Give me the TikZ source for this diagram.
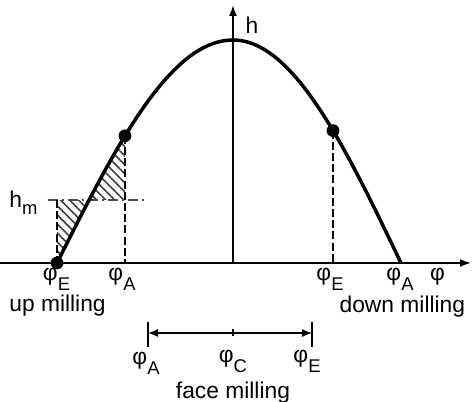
\documentclass[tikz,border=0pt]{standalone}
\usepackage{fontspec}
\setmainfont{Liberation Sans}
\usetikzlibrary{arrows.meta,positioning,patterns.meta}
\newcommand{\ang}[1]{φ\raisebox{-0.45em}{\fontsize{9.2}{10}\selectfont #1}}
\tikzset{
  axis/.style={-{Latex[length=5.5pt,width=4pt]}, line width=0.9pt},
  profile/.style={line width=1.75pt, line join=round},
  pt/.style={circle, fill=black, inner sep=0pt, minimum size=6.4pt},
  guide/.style={dash pattern=on 4pt off 1.6pt, line width=1pt},
  level/.style={dash pattern=on 5pt off 2pt on 1pt off 2pt, line width=0.6pt, black!70},
  hatch/.style={pattern={Lines[angle=-45,distance=3.2pt,line width=0.8pt]}, pattern color=black!75},
  dim/.style={{Latex[length=5pt,width=4pt]}-{Latex[length=5pt,width=4pt]}, line width=0.6pt},
  bar/.style={line width=0.6pt},
  lbl/.style={inner sep=0pt}
}

\begin{document}
\begin{tikzpicture}[x=5pt,y=5pt,font=\fontsize{11.4}{13}\selectfont]
  \useasboundingbox (-23.3,-13.9) rectangle (23.9,26.3);
  \coordinate (O) at (0,0);
  \coordinate (xl) at (-23.3,0);
  \coordinate (xr) at (23.8,0);
  \coordinate (yt) at (0,25.8);
  \coordinate (E1) at (-17.6,0);
  \coordinate (A2) at (16.8,0);
  \coordinate (m1) at (-17.6,6.3);
  \coordinate (m2) at (-14.39,6.3);
  \coordinate (m3) at (-10.8,6.3);
  \coordinate (ml) at (-18.5,6.3);
  \coordinate (mr) at (-8.6,6.3);
  \coordinate (A1) at (-10.8,12.72);
  \coordinate (E2) at (10,13.24);

  % chip thickness hatching
  \fill[hatch] (E1) -- (m1) -- (m2) -- plot[domain=-14.39:-17.6,samples=12] (\x,{22.3*cos(90*\x/17.6)}) -- cycle;
  \fill[hatch] (m2) -- (m3) -- (A1) -- plot[domain=-10.8:-14.39,samples=12] (\x,{22.3*cos(90*\x/17.6)}) -- cycle;

  \draw[level] (ml) -- (mr);
  \draw[guide] (m1) -- (E1);
  \draw[guide] (A1) -- (A1 |- O);
  \draw[guide] (E2) -- (E2 |- O);

  \draw[profile] plot[domain=-17.6:0,samples=60] (\x,{22.3*cos(90*\x/17.6)})
    -- plot[domain=0:16.8,samples=60] (\x,{22.3*cos(90*\x/16.8)});

  \draw[axis] (xl) -- (xr);
  \draw[axis] (O) -- (yt);
  \node[pt] (dA1) at (A1) {};
  \node[pt] (dE2) at (E2) {};
  \node[pt] (dE1) at (E1) {};

  % labels
  \node[lbl] (h) at (1.9,23.8) {h};
  \node[lbl, anchor=base west] (hm) at (-22.4,5.5) {h\raisebox{-0.3em}{\fontsize{9.2}{10}\selectfont m}};
  \node[lbl, anchor=north] (lE1) at (-17.65,-0.45) {\ang{E}};
  \node[lbl, anchor=north] (lA1) at (-11.1,-0.45) {\ang{A}};
  \node[lbl, anchor=north] (lE2) at (9.7,-0.45) {\ang{E}};
  \node[lbl, anchor=north] (lA2) at (16.7,-0.45) {\ang{A}};
  \node[lbl, anchor=north] (lphi) at (20.45,-0.5) {φ};
  \node[lbl, anchor=base west] (up) at (-22.4,-4.8) {up milling};
  \node[lbl, anchor=base east] (down) at (23.25,-4.9) {down milling};

  % face milling range
  \coordinate (fA) at (-8.5,-7);
  \coordinate (fC) at (0,-7);
  \coordinate (fE) at (7.9,-7);
  \draw[dim] (fA) -- (fE);
  \draw[bar] ([yshift=5.5pt]fA) -- ([yshift=-7pt]fA);
  \draw[bar] ([yshift=5.5pt]fE) -- ([yshift=-7pt]fE);
  \draw[bar] ([yshift=2pt]fC) -- ([yshift=-1.5pt]fC);
  \node[lbl, anchor=north] (lfA) at (-8.7,-8.9) {\ang{A}};
  \node[lbl, anchor=north] (lfC) at (0,-8.7) {\ang{C}};
  \node[lbl, anchor=north] (lfE) at (7.4,-8.7) {\ang{E}};
  \node[lbl, anchor=base] (face) at (0,-13.5) {face milling};
\end{tikzpicture}
\end{document}
